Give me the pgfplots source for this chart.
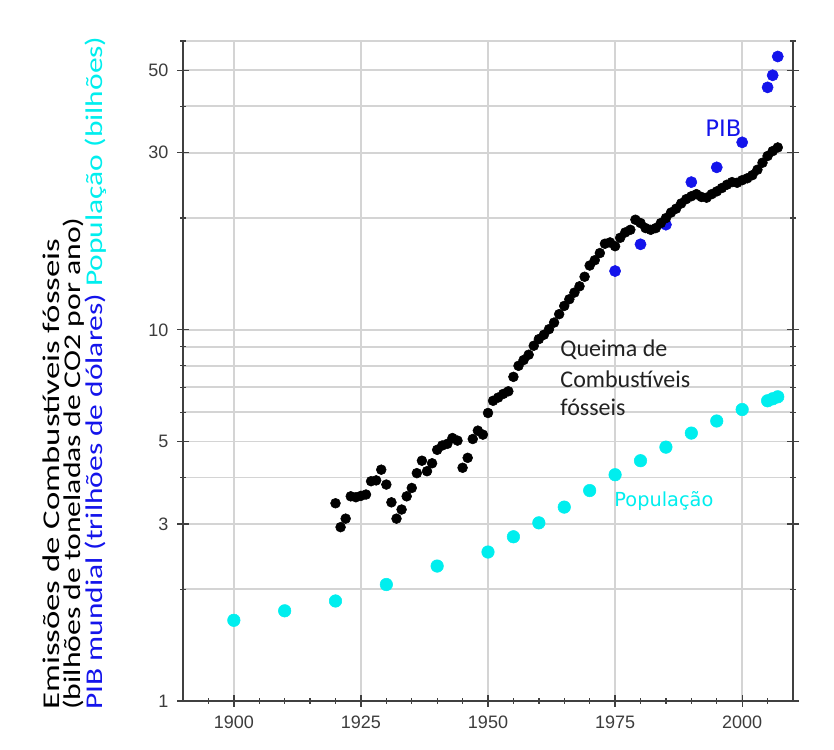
\documentclass[border=0pt]{standalone}
\usepackage{fontspec}
\setmainfont{Liberation Sans}
\newfontfamily\carlito{Carlito}
\newfontfamily\carlitoA[FakeStretch=1.45]{Carlito}
\newfontfamily\carlitoB[FakeStretch=1.32]{Carlito}
\newfontfamily\carlitoC[FakeStretch=1.31]{Carlito}
\newfontfamily\dejavu{DejaVu Sans}
\usepackage{pgfplots}
\usepackage{pgfplotstable}
\pgfplotsset{compat=1.18}
\definecolor{pop}{RGB}{0,238,238}
\definecolor{gdp}{RGB}{20,20,235}
\definecolor{axisgray}{RGB}{64,64,64}
\definecolor{ticktext}{RGB}{60,60,60}
\definecolor{gridgray}{RGB}{212,212,212}
\definecolor{annot}{RGB}{34,34,34}

\pgfplotstableread{
year val
1920 3.41
1921 2.94
1922 3.10
1923 3.56
1924 3.54
1925 3.57
1926 3.60
1927 3.91
1928 3.93
1929 4.20
1930 3.83
1931 3.43
1932 3.10
1933 3.28
1934 3.56
1935 3.75
1936 4.11
1937 4.44
1938 4.16
1939 4.37
1940 4.75
1941 4.88
1942 4.93
1943 5.11
1944 5.03
1945 4.25
1946 4.52
1947 5.08
1948 5.35
1949 5.22
1950 5.97
1951 6.44
1952 6.57
1953 6.72
1954 6.83
1955 7.47
1956 8.00
1957 8.29
1958 8.57
1959 9.06
1960 9.44
1961 9.70
1962 10.04
1963 10.46
1964 11.02
1965 11.6
1966 12.09
1967 12.6
1968 13.1
1969 13.9
1970 14.9
1971 15.4
1972 16.1
1973 17.06
1974 17.2
1975 16.8
1976 17.7
1977 18.3
1978 18.6
1979 19.8
1980 19.4
1981 18.8
1982 18.6
1983 18.8
1984 19.4
1985 20.0
1986 20.7
1987 21.2
1988 21.9
1989 22.5
1990 22.9
1991 23.2
1992 22.8
1993 22.7
1994 23.2
1995 23.6
1996 24.1
1997 24.6
1998 25.0
1999 24.9
2000 25.3
2001 25.6
2002 26.1
2003 27.0
2004 28.2
2005 29.4
2006 30.3
2007 31.0
}\emissions

\pgfplotstableread{
year val
1900 1.65
1910 1.75
1920 1.86
1930 2.06
1940 2.31
1950 2.52
1955 2.77
1960 3.02
1965 3.33
1970 3.69
1975 4.07
1980 4.44
1985 4.83
1990 5.27
1995 5.68
2000 6.10
2005 6.44
2006 6.52
2007 6.60
}\population

\pgfplotstableread{
year val
1975 14.4
1980 17.0
1985 19.2
1990 25.0
1995 27.4
2000 32.0
2005 45.0
2006 48.5
2007 54.5
}\gdp

\begin{document}
\begin{tikzpicture}
\path[use as bounding box] (-137.25pt,-36pt) rectangle (488.25pt,525.75pt);
\begin{axis}[
  at={(0pt,0pt)}, anchor=south west,
  scale only axis, width=457.5pt, height=495pt,
  xmin=1890, xmax=2010,
  ymode=log, log basis y=10, ymin=1, ymax=60,
  axis x line*=bottom, axis y line*=box,
  xtick={1900,1925,1950,1975,2000},
  xticklabels={1900,1925,1950,1975,2000},
  minor xtick={1895,1905,1910,1915,1920,1930,1935,1940,1945,1955,1960,1965,1970,1980,1985,1990,1995,2005},
  ytick={1,3,5,10,30,50},
  yticklabels={1,3,5,10,30,50},
  minor ytick={2,4,6,7,8,9,20,40,60},
  yticklabel pos=left,
  xmajorgrids=true, ymajorgrids=true, yminorgrids=true,
  major grid style={draw=gridgray, line width=1.4pt},
  minor grid style={draw=gridgray, line width=1.4pt},
  axis line style={draw=axisgray, line width=1.3pt},
  tick style={draw=axisgray, line width=1pt},
  tick align=center,
  major tick length=9pt, minor tick length=4pt,
  ticklabel style={font=\fontsize{13.5}{16}\selectfont, text=ticktext},
  xticklabel style={yshift=-3pt},
  yticklabel style={xshift=-3pt},
  clip=false,
]
\addplot[only marks, mark=*, mark size=4.7pt, mark options={draw=pop, fill=pop}] table[x=year, y=val] {\population};
\addplot[only marks, mark=*, mark size=4.2pt, mark options={draw=gdp, fill=gdp}] table[x=year, y=val] {\gdp};
\addplot[only marks, mark=*, mark size=3.7pt, mark options={draw=black, fill=black}] table[x=year, y=val] {\emissions};

\node[anchor=base west, font=\carlito\fontsize{18}{22}\selectfont, text=annot, inner sep=0pt] at (axis cs:1964.2,8.46) {Queima de};
\node[anchor=base west, font=\carlito\fontsize{18}{22}\selectfont, text=annot, inner sep=0pt] at (axis cs:1964.2,7.0) {Combustíveis};
\node[anchor=base west, font=\carlito\fontsize{18}{22}\selectfont, text=annot, inner sep=0pt] at (axis cs:1964.2,5.87) {fósseis};
\node[anchor=base, font=\dejavu\fontsize{17}{20}\selectfont, text=gdp, inner sep=0pt] at (axis cs:1996.3,33.2) {PIB};
\node[anchor=base, font=\dejavu\fontsize{14.5}{17}\selectfont, text=pop, inner sep=0pt] at (axis cs:1984.6,3.34) {População};
\end{axis}
\node[rotate=90, anchor=base west, inner sep=0pt, font=\carlitoA\fontsize{18}{20}\selectfont, text=black] at (-92.25pt,-6.75pt) {Emissões de Combustíveis fósseis};
\node[rotate=90, anchor=base west, inner sep=0pt, font=\carlitoB\fontsize{18}{20}\selectfont, text=black] at (-76.5pt,-6.75pt) {(bilhões de toneladas de CO2 por ano)};
\node[rotate=90, anchor=base west, inner sep=0pt, font=\carlitoC\fontsize{18}{20}\selectfont] at (-60.75pt,-6.75pt) {\textcolor{gdp}{PIB mundial (trilhões de dólares)} \textcolor{pop}{População (bilhões)}};
\end{tikzpicture}
\end{document}
